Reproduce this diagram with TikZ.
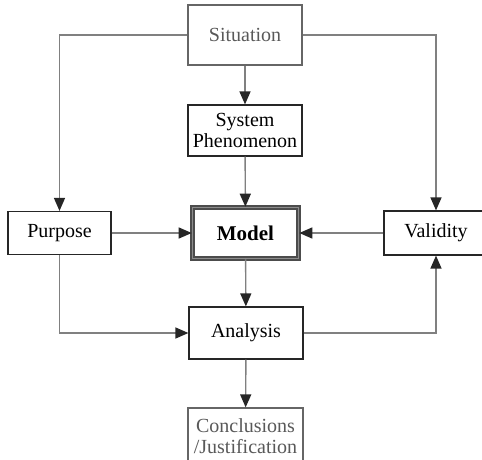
\documentclass[tikz,border=0pt]{standalone}
\usepackage{fontspec}
\setmainfont{Liberation Serif}
\usetikzlibrary{arrows.meta}

\begin{document}
\begin{tikzpicture}[x=1pt, y=-1pt,
        box_style/.style={rectangle, draw=black!85, line width=1.2pt, fill=white, inner sep=0pt, align=center, font=\fontsize{20}{21}\selectfont},
        faded_box_style/.style={box_style, draw=black!60, text=black!65},
        model_style/.style={box_style, draw=black!70, line width=1.6pt, double=black!45, double distance=1.6pt, font=\fontsize{21}{22}\selectfont\bfseries},
        edge_style/.style={draw=black!50, line width=1.4pt, -{Triangle[length=13pt, width=11pt, color=black!85]}}]

        \useasboundingbox (0,0) rectangle (482,459);

        \node [faded_box_style, minimum width=114, minimum height=60] (sit) at (245,35) {Situation};

        \node [box_style, minimum width=114, minimum height=51] (sys) at (245,130.5) {System\\Phenomenon};

        \node [model_style, minimum width=106, minimum height=51] (mod) at (245.5,233) {Model};

        \node [box_style, minimum width=103, minimum height=43] (pur) at (59.5,233) {Purpose};

        \node [box_style, minimum width=104, minimum height=44] (val) at (436,233) {Validity};

        \node [box_style, minimum width=114, minimum height=52] (ana) at (246,333) {Analysis};

        \node [faded_box_style, minimum width=115, minimum height=56] (con) at (245.5,436) {Conclusions\\/Justification};

        \draw [edge_style] (sit) -- (sys);

        \draw [edge_style] (sys) -- (mod);

        \draw [edge_style] (mod) -- (ana);

        \draw [edge_style] (ana) -- (con);

        \draw [edge_style] (pur) -- (mod);

        \draw [edge_style] (val) -- (mod);

        \draw [edge_style] (sit.west) -| (pur.north);

        \draw [edge_style] (sit.east) -| (val.north);

        \draw [edge_style] (pur.south) |- (ana.west);

        \draw [edge_style] (ana.east) -| (val.south);

\end{tikzpicture}
\end{document}
